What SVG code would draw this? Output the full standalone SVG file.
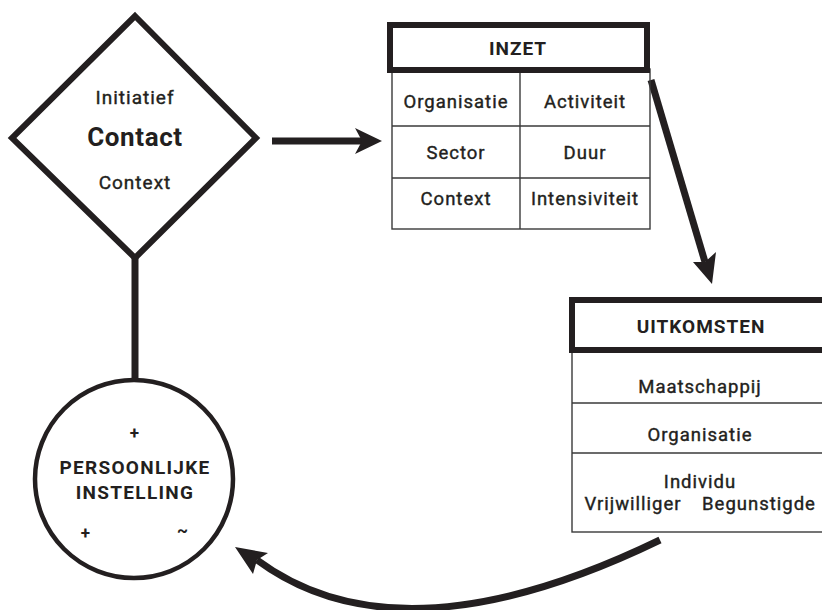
<svg xmlns="http://www.w3.org/2000/svg" width="822" height="610" viewBox="0 0 822 610">
<style>
text{font-family:Roboto,"Liberation Sans",sans-serif;fill:#231f20;text-anchor:middle}
.t{font-size:18.5px;letter-spacing:1px;stroke:#231f20;stroke-width:0.4}
.b{font-weight:bold;font-size:19px;letter-spacing:1px}
.thick{fill:none;stroke:#231f20;stroke-width:6}
.cell{fill:none;stroke:#3a3a3a;stroke-width:1.4}
.conn{fill:none;stroke:#231f20;stroke-width:7}
.head{fill:#231f20;stroke:none}
</style>
<rect width="822" height="610" fill="#fff"/>
<g id="connectors">
<line class="conn" x1="135" y1="258" x2="135" y2="382"/>
<line class="conn" x1="272" y1="141" x2="362" y2="141"/>
<path class="head" d="M382,141 L355,128 L362,141 L355,154 Z"/>
<line class="conn" x1="651" y1="80" x2="705" y2="262"/>
<path class="head" d="M712,284 L693,262 L705,262 L716,252 Z"/>
<path class="conn" d="M660,540 Q400,666 257,560"/>
<path class="head" d="M235,547 L253,574 L257,560 L268,553 Z"/>
</g>
<g id="contact">
<path class="thick" d="M135,16 L256,138 L135,258 L12,138 Z" fill="#fff"/>
<text class="t" x="135" y="104" style="font-size:19px;letter-spacing:1px">Initiatief</text>
<text x="135" y="146" style="font-size:26px;font-weight:bold;letter-spacing:0.6px">Contact</text>
<text class="t" x="135" y="189" style="font-size:19px;letter-spacing:1px">Context</text>
</g>
<g id="inzet">
<rect class="cell" x="392" y="69" width="258" height="160" fill="#fff"/>
<line class="cell" x1="520" y1="69" x2="520" y2="229"/>
<line class="cell" x1="392" y1="126" x2="650" y2="126"/>
<line class="cell" x1="392" y1="178" x2="650" y2="178"/>
<rect class="thick" x="390" y="25" width="257" height="45" fill="#fff"/>
<text class="b" x="518" y="55">INZET</text>
<text class="t" x="456" y="108">Organisatie</text>
<text class="t" x="585" y="108">Activiteit</text>
<text class="t" x="456" y="159">Sector</text>
<text class="t" x="585" y="159">Duur</text>
<text class="t" x="456" y="205">Context</text>
<text class="t" x="585" y="205">Intensiviteit</text>
</g>
<g id="uitkomsten">
<rect class="cell" x="572" y="350" width="260" height="182" fill="#fff"/>
<line class="cell" x1="572" y1="403" x2="822" y2="403"/>
<line class="cell" x1="572" y1="453" x2="822" y2="453"/>
<rect class="thick" x="572" y="300" width="260" height="50" fill="#fff"/>
<text class="b" x="701" y="333">UITKOMSTEN</text>
<text class="t" x="700" y="393">Maatschappij</text>
<text class="t" x="700" y="441">Organisatie</text>
<text class="t" x="700" y="488">Individu</text>
<text class="t" x="633" y="510">Vrijwilliger</text>
<text class="t" x="759" y="510">Begunstigde</text>
</g>
<g id="persoonlijke-instelling">
<circle cx="134" cy="479" r="99" fill="#fff" stroke="#231f20" stroke-width="4.5"/>
<text class="b" x="135" y="439" style="font-size:17px">+</text>
<text class="b" x="135" y="474" style="font-size:19px;letter-spacing:1.3px">PERSOONLIJKE</text>
<text class="b" x="135" y="499" style="font-size:19px;letter-spacing:1.3px">INSTELLING</text>
<text class="b" x="86" y="539" style="font-size:17px">+</text>
<text class="b" x="183" y="536" style="font-size:17px">~</text>
</g>
</svg>
